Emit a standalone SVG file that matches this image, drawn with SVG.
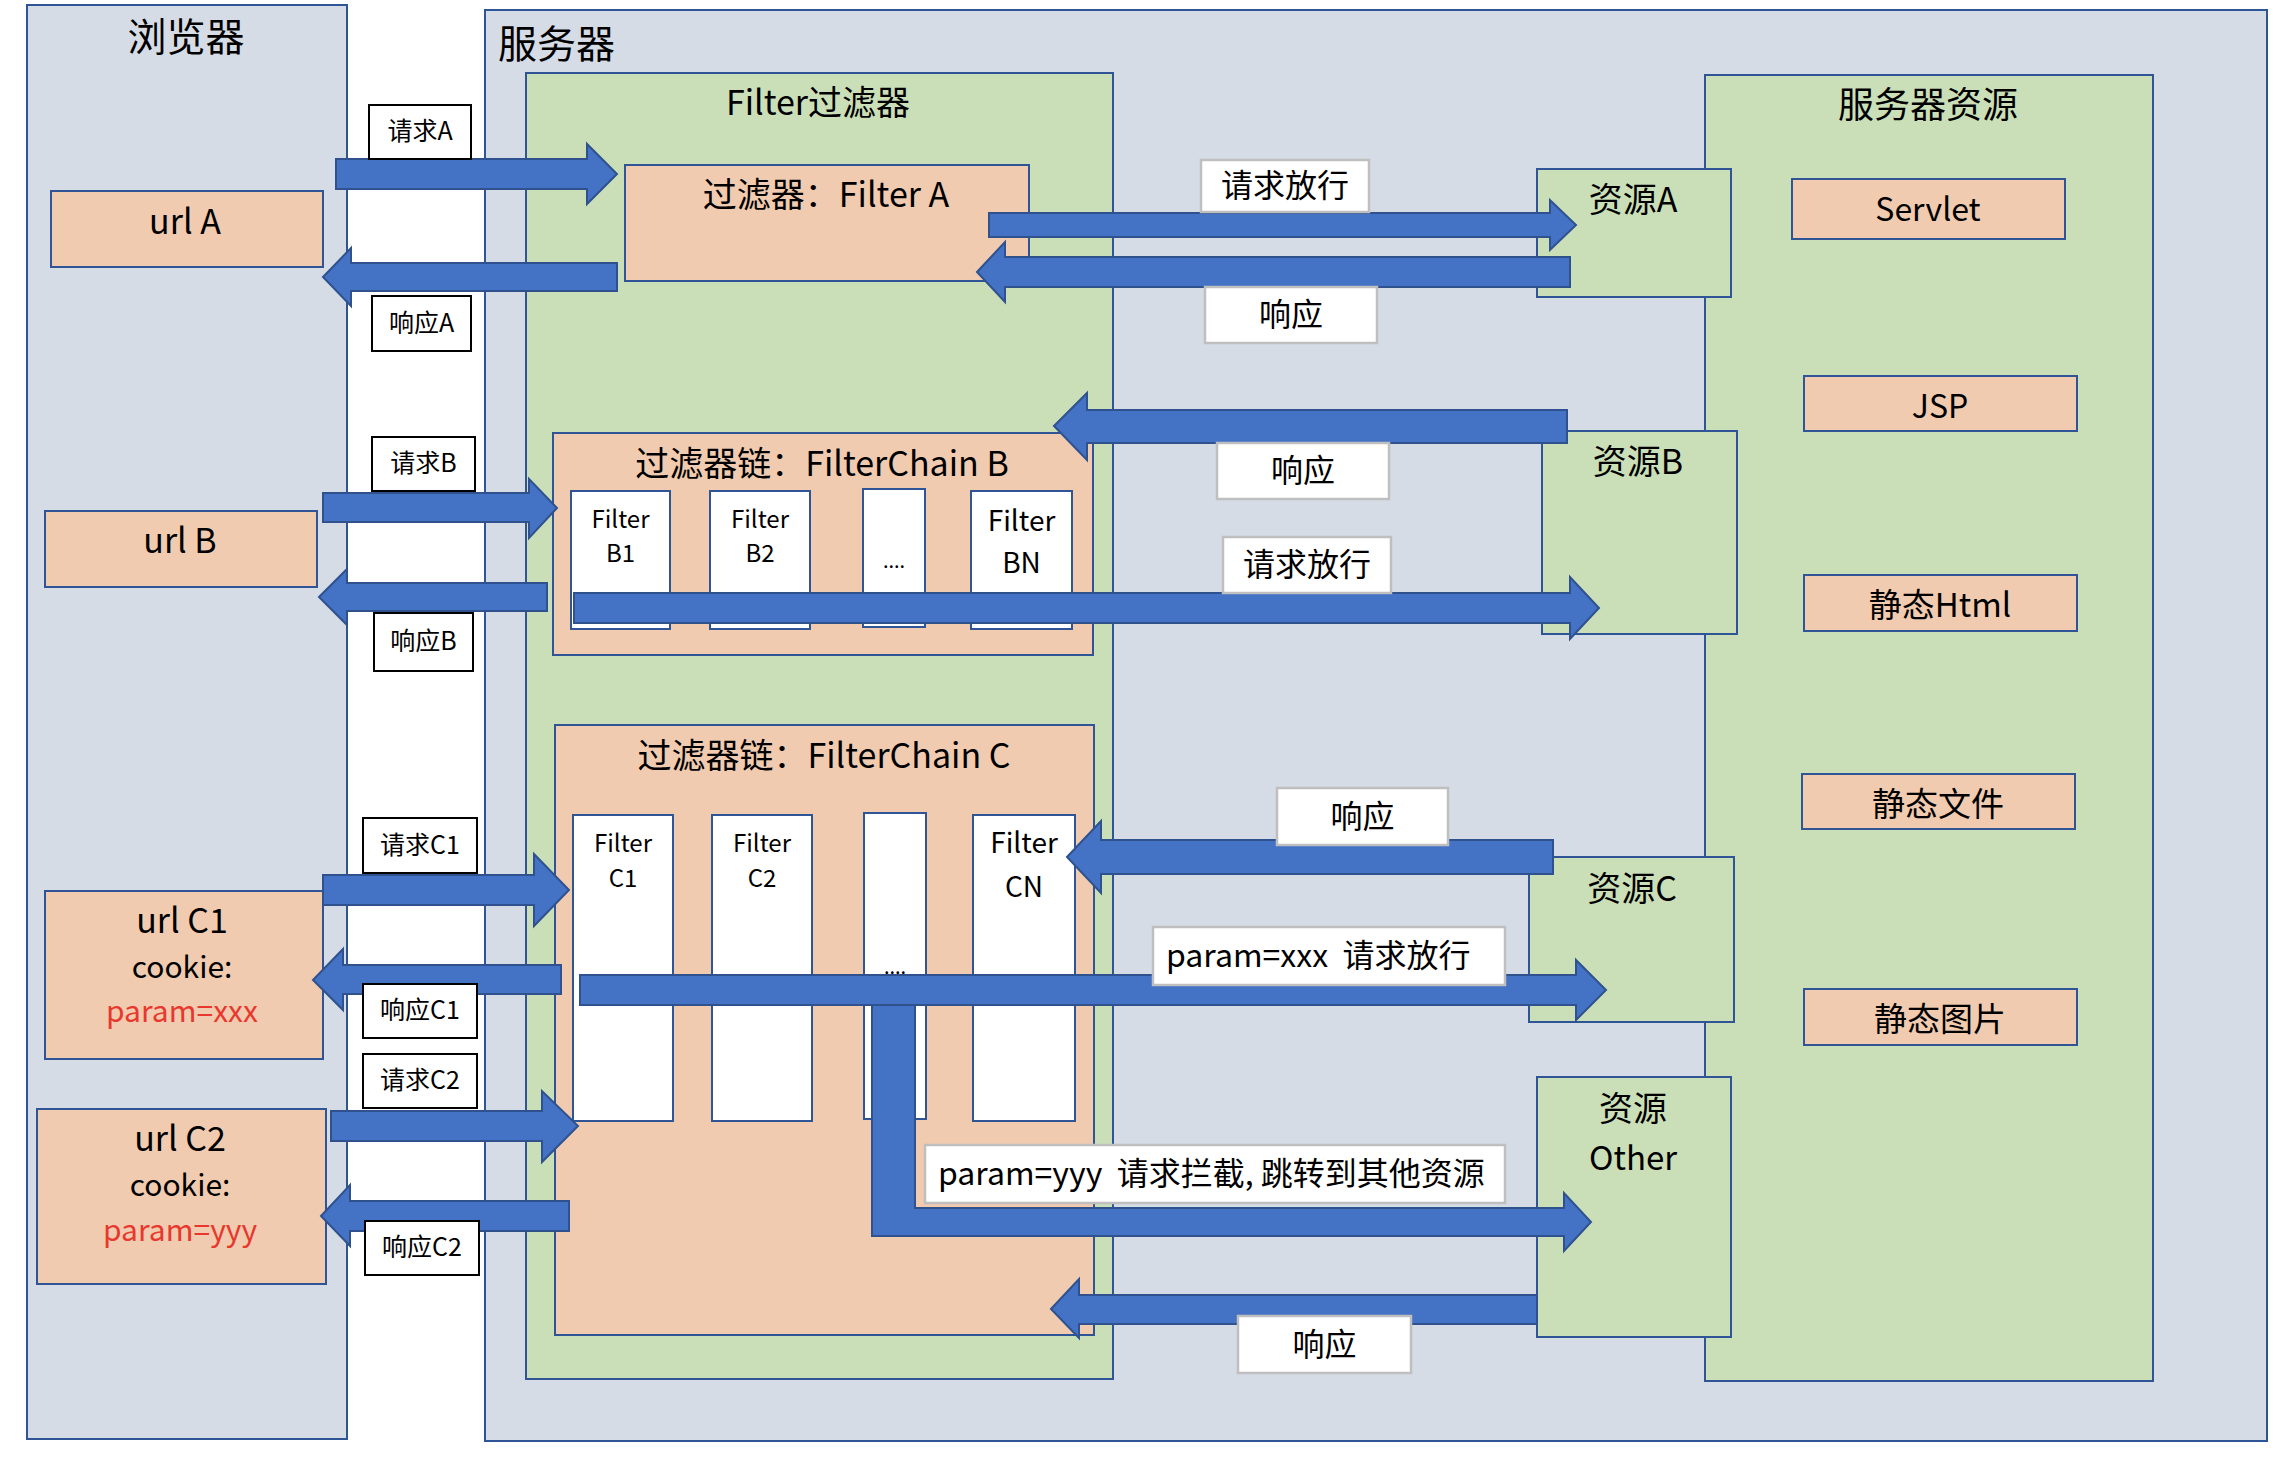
<svg xmlns="http://www.w3.org/2000/svg" width="2280" height="1458" viewBox="0 0 2280 1458">
<style>
.gray{fill:#d6dce5;stroke:#2f5597;stroke-width:2}
.green{fill:#cadfb8;stroke:#2f5597;stroke-width:2}
.peach{fill:#f1cbb0;stroke:#2f5597;stroke-width:2}
.wbox{fill:#ffffff;stroke:#2f5597;stroke-width:2}
.lb{fill:#ffffff;stroke:#000000;stroke-width:2}
.lg{fill:#ffffff;stroke:#bfbfbf;stroke-width:2.5}
.arrow{fill:#4472c4;stroke:#2f528f;stroke-width:2}
text{font-family:"Noto Sans CJK SC","Noto Sans",sans-serif;fill:#000}
.c{text-anchor:middle}
.red{fill:#e8382e}
</style>
<rect width="2280" height="1458" fill="#ffffff"/>

<g id="browser">
<rect class="gray" x="27" y="5" width="320" height="1434"/>
<text class="c" x="186" y="51" font-size="39">浏览器</text>
</g>
<g id="server">
<rect class="gray" x="485" y="10" width="1782" height="1431"/>
<text x="498" y="58" font-size="39">服务器</text>
</g>
<g id="filter-panel">
<rect class="green" x="526" y="73" width="587" height="1306"/>
<text class="c" x="818" y="115" font-size="34">Filter过滤器</text>
</g>
<g id="resource-panel">
<rect class="green" x="1705" y="75" width="448" height="1306"/>
<text class="c" x="1928" y="118" font-size="36">服务器资源</text>
</g>

<g id="urlA">
<rect class="peach" x="51" y="191" width="272" height="76"/>
<text class="c" x="185" y="234" font-size="34">url A</text>
</g>
<g id="urlB">
<rect class="peach" x="45" y="511" width="272" height="76"/>
<text class="c" x="180" y="553" font-size="34">url B</text>
</g>
<g id="urlC1">
<rect class="peach" x="45" y="891" width="278" height="168"/>
<text class="c" x="182" y="933" font-size="34">url C1</text>
<text class="c" x="182" y="978" font-size="30">cookie:</text>
<text class="c red" x="182" y="1022" font-size="30">param=xxx</text>
</g>
<g id="urlC2">
<rect class="peach" x="37" y="1109" width="289" height="175"/>
<text class="c" x="180" y="1151" font-size="34">url C2</text>
<text class="c" x="180" y="1196" font-size="30">cookie:</text>
<text class="c red" x="180" y="1241" font-size="30">param=yyy</text>
</g>

<g id="filterA">
<rect class="peach" x="625" y="165" width="404" height="116"/>
<text class="c" x="826" y="207" font-size="34">过滤器：Filter A</text>
</g>

<g id="chainB">
<rect class="peach" x="553" y="433" width="540" height="222"/>
<text class="c" x="822" y="476" font-size="34">过滤器链：FilterChain B</text>
<rect class="wbox" x="571" y="491" width="99" height="138"/>
<text class="c" x="620.5" y="528" font-size="24">Filter</text>
<text class="c" x="620.5" y="562" font-size="24">B1</text>
<rect class="wbox" x="710" y="491" width="100" height="138"/>
<text class="c" x="760" y="528" font-size="24">Filter</text>
<text class="c" x="760" y="562" font-size="24">B2</text>
<rect class="wbox" x="863" y="489" width="62" height="138"/>
<text class="c" x="894" y="568" font-size="20">....</text>
<rect class="wbox" x="971" y="491" width="101" height="138"/>
<text class="c" x="1021.5" y="531" font-size="28">Filter</text>
<text class="c" x="1021.5" y="573" font-size="28">BN</text>
</g>

<g id="chainC">
<rect class="peach" x="555" y="725" width="539" height="610"/>
<text class="c" x="824" y="768" font-size="34">过滤器链：FilterChain C</text>
<rect class="wbox" x="573" y="815" width="100" height="306"/>
<text class="c" x="623" y="852" font-size="24">Filter</text>
<text class="c" x="623" y="887" font-size="24">C1</text>
<rect class="wbox" x="712" y="815" width="100" height="306"/>
<text class="c" x="762" y="852" font-size="24">Filter</text>
<text class="c" x="762" y="887" font-size="24">C2</text>
<rect class="wbox" x="864" y="813" width="62" height="306"/>
<text class="c" x="895" y="974" font-size="20">....</text>
<rect class="wbox" x="973" y="815" width="102" height="306"/>
<text class="c" x="1024" y="853" font-size="28">Filter</text>
<text class="c" x="1024" y="897" font-size="28">CN</text>
</g>

<g id="resA">
<rect class="green" x="1537" y="169" width="194" height="128"/>
<text class="c" x="1633" y="212" font-size="34">资源A</text>
</g>
<g id="resB">
<rect class="green" x="1542" y="431" width="195" height="203"/>
<text class="c" x="1638" y="474" font-size="34">资源B</text>
</g>
<g id="resC">
<rect class="green" x="1529" y="857" width="205" height="165"/>
<text class="c" x="1632" y="901" font-size="34">资源C</text>
</g>
<g id="resOther">
<rect class="green" x="1537" y="1077" width="194" height="260"/>
<text class="c" x="1633" y="1121" font-size="34">资源</text>
<text class="c" x="1633" y="1170" font-size="33">Other</text>
</g>

<g id="servlet">
<rect class="peach" x="1792" y="179" width="273" height="60"/>
<text class="c" x="1928" y="221" font-size="32">Servlet</text>
</g>
<g id="jsp">
<rect class="peach" x="1804" y="376" width="273" height="55"/>
<text class="c" x="1940" y="418" font-size="32">JSP</text>
</g>
<g id="html">
<rect class="peach" x="1804" y="575" width="273" height="56"/>
<text class="c" x="1940" y="617" font-size="33">静态Html</text>
</g>
<g id="files">
<rect class="peach" x="1802" y="774" width="273" height="55"/>
<text class="c" x="1938" y="816" font-size="33">静态文件</text>
</g>
<g id="images">
<rect class="peach" x="1804" y="989" width="273" height="56"/>
<text class="c" x="1940" y="1031" font-size="33">静态图片</text>
</g>

<g id="connectors">
<polygon class="arrow" points="336,159 587,159 587,144 617,174 587,204 587,189 336,189"/>
<polygon class="arrow" points="323,277 351,248 351,263 617,263 617,291 351,291 351,306"/>
<polygon class="arrow" points="989,213 1550,213 1550,200 1576,225 1550,250 1550,237 989,237"/>
<polygon class="arrow" points="977,272 1005,242 1005,257 1570,257 1570,287 1005,287 1005,302"/>
<polygon class="arrow" points="1054,426 1087,393 1087,410 1567,410 1567,443 1087,443 1087,460"/>
<polygon class="arrow" points="574,593 1570,593 1570,577 1599,608 1570,639 1570,623 574,623"/>
<polygon class="arrow" points="323,493 529,493 529,479 557,508 529,538 529,522 323,522"/>
<polygon class="arrow" points="319,597 347,569 347,583 547,583 547,611 347,611 347,625"/>
<polygon class="arrow" points="323,875 534,875 534,854 569,890 534,926 534,905 323,905"/>
<polygon class="arrow" points="313,980 343,949 343,965 561,965 561,994 343,994 343,1010"/>
<polygon class="arrow" points="331,1111 542,1111 542,1091 578,1126 542,1162 542,1141 331,1141"/>
<polygon class="arrow" points="321,1216 350,1185 350,1201 569,1201 569,1231 350,1231 350,1246"/>
<polygon class="arrow" points="1067,857 1101,821 1101,840 1553,840 1553,874 1101,874 1101,893"/>
<polygon class="arrow" points="580,975 1576,975 1576,960 1606,990 1576,1020 1576,1005 580,1005"/>
<polygon class="arrow" points="872,1005 915,1005 915,1208 1564,1208 1564,1193 1591,1222 1564,1251 1564,1236 872,1236"/>
<polygon class="arrow" points="1051,1309 1079,1279 1079,1295 1537,1295 1537,1324 1079,1324 1079,1338"/>
</g>

<g id="labels">
<g id="lbl-reqA"><rect class="lb" x="369" y="105" width="102" height="54"/><text class="c" x="420" y="140" font-size="25">请求A</text></g>
<g id="lbl-resA"><rect class="lb" x="372" y="296" width="99" height="55"/><text class="c" x="421.5" y="332" font-size="25">响应A</text></g>
<g id="lbl-reqB"><rect class="lb" x="372" y="437" width="103" height="54"/><text class="c" x="423.5" y="472" font-size="25">请求B</text></g>
<g id="lbl-resB"><rect class="lb" x="374" y="613" width="99" height="58"/><text class="c" x="423.5" y="650" font-size="25">响应B</text></g>
<g id="lbl-reqC1"><rect class="lb" x="363" y="818" width="114" height="55"/><text class="c" x="420" y="854" font-size="25">请求C1</text></g>
<g id="lbl-resC1"><rect class="lb" x="363" y="984" width="114" height="54"/><text class="c" x="420" y="1019" font-size="25">响应C1</text></g>
<g id="lbl-reqC2"><rect class="lb" x="363" y="1054" width="114" height="54"/><text class="c" x="420" y="1089" font-size="25">请求C2</text></g>
<g id="lbl-resC2"><rect class="lb" x="365" y="1221" width="114" height="54"/><text class="c" x="422" y="1256" font-size="25">响应C2</text></g>
<g id="lbl-passA"><rect class="lg" x="1201" y="160" width="168" height="52"/><text class="c" x="1285" y="197" font-size="32">请求放行</text></g>
<g id="lbl-respA"><rect class="lg" x="1205" y="287" width="172" height="56"/><text class="c" x="1291" y="326" font-size="32">响应</text></g>
<g id="lbl-respB"><rect class="lg" x="1217" y="443" width="172" height="56"/><text class="c" x="1303" y="482" font-size="32">响应</text></g>
<g id="lbl-passB"><rect class="lg" x="1223" y="537" width="168" height="56"/><text class="c" x="1307" y="576" font-size="32">请求放行</text></g>
<g id="lbl-respC"><rect class="lg" x="1277" y="788" width="171" height="57"/><text class="c" x="1362.5" y="828" font-size="32">响应</text></g>
<g id="lbl-passC"><rect class="lg" x="1153" y="927" width="352" height="58"/><text x="1166" y="967" font-size="32">param=xxx&#160; 请求放行</text></g>
<g id="lbl-block"><rect class="lg" x="925" y="1145" width="580" height="58"/><text x="938" y="1185" font-size="32">param=yyy&#160; 请求拦截, 跳转到其他资源</text></g>
<g id="lbl-respOther"><rect class="lg" x="1238" y="1316" width="173" height="57"/><text class="c" x="1324.5" y="1356" font-size="32">响应</text></g>
</g>
</svg>
